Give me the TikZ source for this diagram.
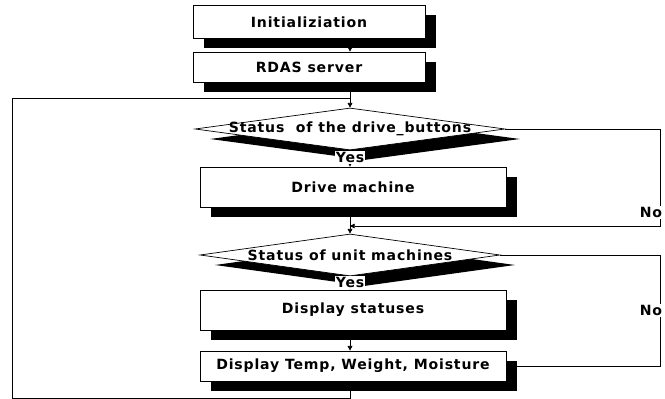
\documentclass[tikz,border=0pt]{standalone}
\usepackage{fontspec}
\newfontfamily\flowfont{DejaVu Sans}[LetterSpace=6]
\usetikzlibrary{arrows.meta, shapes.geometric, shadows}

\begin{document}
\begin{tikzpicture}[x=0.03cm, y=-0.03cm, line width=0.6pt,
    font=\flowfont\bfseries\fontsize{12}{14}\selectfont,
    >={Triangle[length=4pt, width=4pt]},
    box/.style={draw, fill=white, drop shadow={shadow xshift=0.33cm, shadow yshift=-0.3cm, fill=black, opacity=1}},
    decision/.style={diamond, draw, fill=white, inner sep=0pt, minimum height=1.26cm,
        drop shadow={shadow xshift=0.45cm, shadow yshift=-0.3cm, fill=black, opacity=1}},
    answer/.style={fill=white, inner sep=1pt}]
    \useasboundingbox (0,0) rectangle (665,399);

    % Start
    \node[box, minimum width=6.96cm, minimum height=0.99cm] (init) at (309,22) {Initializiation};
    \node[box, minimum width=6.96cm, minimum height=0.9cm] (rdas) at (309,67) {RDAS server};

    % First test
    \node[decision, minimum width=9.3cm, label=center:{Status\ \ of the drive\_buttons}] (drivebtn) at (350,129) {};
    \node[box, minimum width=9.18cm, minimum height=1.2cm] (drivemc) at (353,187) {Drive machine};

    % Second test
    \node[decision, minimum width=9cm, label=center:{Status of unit machines}] (unitst) at (350,255) {};
    \node[box, minimum width=9.18cm, minimum height=1.2cm] (dispst) at (353,310) {Display statuses};
    \node[box, minimum width=9.18cm, minimum height=0.9cm] (disptemp) at (353,366) {Display Temp, Weight, Moisture};

    \coordinate (rightrail) at (660,0);
    \coordinate (merge0) at (350,98);
    \coordinate (merge1) at (350,226);
    \coordinate (loopbl) at (12,398);

    % Main column
    \draw[->] (init.south -| merge0) -- (rdas.north -| merge0);
    \draw[->] (rdas.south -| merge0) -- (drivebtn.north);
    \draw[->] (drivebtn.south) -- node[answer, pos=0.45] (yes1) {Yes} (drivemc.north -| merge0);
    \draw[->] (drivemc.south -| merge0) -- (unitst.north);
    \draw[->] (unitst.south) -- node[answer, pos=0.45] (yes2) {Yes} (dispst.north -| merge0);
    \draw[->] (dispst.south -| merge0) -- (disptemp.north -| merge0);

    % No branches
    \draw[->] (drivebtn.east) -- (drivebtn.east -| rightrail)
        -- node[answer, pos=0.86, xshift=-0.27cm] (no1) {No} (rightrail |- merge1) -- (merge1);
    \draw (unitst.east) -- (unitst.east -| rightrail)
        -- node[answer, pos=0.5, xshift=-0.27cm] (no2) {No} (rightrail |- disptemp.east) -- (disptemp.east);

    % Loop back
    \draw (disptemp.south -| merge0) |- (loopbl) |- (merge0);
\end{tikzpicture}
\end{document}
